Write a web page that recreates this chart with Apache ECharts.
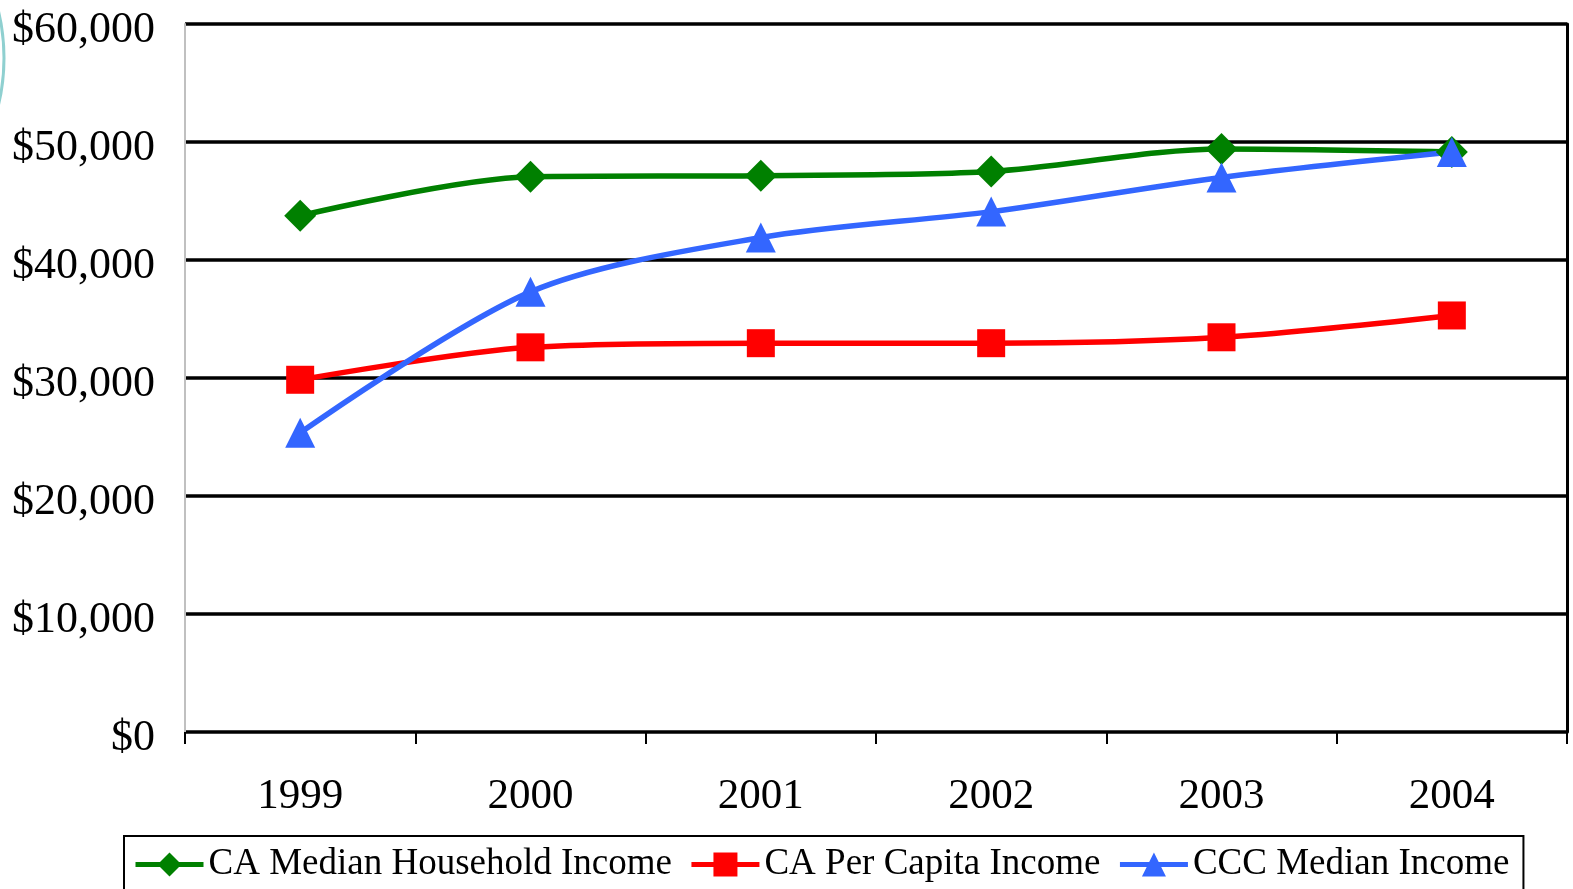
<!DOCTYPE html>
<html>
<head>
<meta charset="utf-8">
<script src="https://cdn.jsdelivr.net/npm/echarts@6/dist/echarts.min.js"></script>
<style>html,body{margin:0;padding:0;background:#fff;}#c{width:1573px;height:889px;}</style>
</head>
<body>
<div id="c"></div>
<script>
const years = ['1999', '2000', '2001', '2002', '2003', '2004'];
const caMedianHousehold = [43750, 47050, 47150, 47500, 49400, 49150];
const caPerCapita = [29850, 32600, 32950, 32950, 33450, 35300];
const cccMedian = [25350, 37300, 41900, 44100, 47000, 49150];
const seriesNames = ['CA Median Household Income', 'CA Per Capita Income', 'CCC Median Income'];

const FONT = "'Liberation Serif', 'Times New Roman', serif";
const chart = echarts.init(document.getElementById('c'), null, {renderer: 'canvas'});
const fmt = v => '{v|$' + v.toLocaleString('en-US') + '}';

function mk(name, data, color, symbol, size) {
  return {
    name, type: 'line', data, smooth: 0.3,
    symbol, symbolSize: size,
    lineStyle: {color, width: 5.5},
    itemStyle: {color},
    emphasis: {disabled: true}
  };
}

chart.setOption({
  animation: false,
  backgroundColor: '#fff',
  graphic: [{
    type: 'circle', shape: {cx: -198, cy: 58, r: 202},
    style: {fill: 'none', stroke: '#8fd0d0', lineWidth: 3}, silent: true
  }],
  grid: {left: 185, right: 6, top: 24, bottom: 157},
  legend: {
    left: 124, top: 836,
    padding: [10, 14, 20, 9],
    itemGap: 17, itemWidth: 68, itemHeight: 30,
    borderColor: '#000', borderWidth: 2,
    lineStyle: {width: 5},
    textStyle: {fontFamily: FONT, fontSize: 37, color: '#000'},
    data: seriesNames
  },
  xAxis: {
    type: 'category', data: years, boundaryGap: true,
    axisLine: {show: false},
    axisTick: {show: true, length: 12, lineStyle: {color: '#000', width: 2}},
    axisLabel: {fontFamily: FONT, fontSize: 43, color: '#000', margin: 43}
  },
  yAxis: [{
    type: 'value', min: 0, max: 60000, interval: 10000,
    axisLine: {show: true, lineStyle: {color: '#c0c0c0', width: 2}},
    axisTick: {show: false},
    splitLine: {show: true, lineStyle: {color: '#000', width: 3.5}},
    axisLabel: {
      color: '#000', margin: 30, formatter: fmt,
      rich: {v: {fontFamily: FONT, fontSize: 44, color: '#000', padding: [12, 0, 0, 0]}}
    }
  }, {
    type: 'value', min: 0, max: 60000, interval: 10000, position: 'right',
    axisLine: {show: true, lineStyle: {color: '#000', width: 3}},
    axisTick: {show: false}, splitLine: {show: false}, axisLabel: {show: false}
  }],
  series: [
    mk(seriesNames[0], caMedianHousehold, '#008000', 'diamond', 32),
    mk(seriesNames[1], caPerCapita, '#ff0000', 'rect', 28),
    mk(seriesNames[2], cccMedian, '#3366ff', 'triangle', 30)
  ]
});
</script>
</body>
</html>
